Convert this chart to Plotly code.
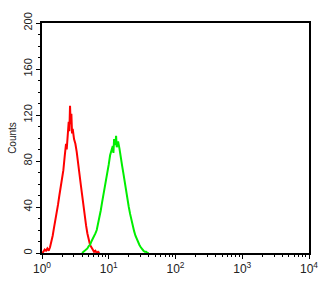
import plotly.graph_objects as go

# log10 fluorescence intensity positions and event counts
red_log = [0.00,0.02,0.04,0.06,0.08,0.10,0.12,0.14,0.16,0.18,0.20,0.22,0.24,0.26,0.28,0.30,
           0.32,0.34,0.36,0.37,0.38,0.40,0.41,0.42,0.43,0.44,0.45,0.46,0.48,0.50,0.52,0.54,0.56,0.58,0.60,
           0.62,0.64,0.66,0.68,0.70,0.72,0.74,0.76,0.78,0.80,0.82,0.84,0.86]
red_counts = [0,1,3,2,4,2,5,9,15,22,28,35,42,50,57,64,
              72,84,95,90,101,114,106,128,112,121,104,108,99,95,88,80,69,60,51,
              41,32,24,17,11,7,5,3,1,2,0,1,0]

green_log = [0.60,0.62,0.64,0.66,0.68,0.70,0.72,0.74,0.76,0.78,0.80,0.82,0.84,0.86,0.88,0.90,
             0.92,0.94,0.96,0.98,1.00,1.02,1.04,1.06,1.07,1.08,1.10,1.11,1.12,1.14,1.16,1.18,1.20,1.22,
             1.24,1.26,1.28,1.30,1.32,1.34,1.36,1.38,1.40,1.42,1.44,1.46,1.48,1.50,1.52,1.54,
             1.56,1.58,1.60]
green_counts = [0,1,2,3,4,6,7,10,12,14,17,20,25,31,37,44,
                50,57,63,71,77,85,90,93,87,99,94,102,92,97,91,85,76,69,
                61,53,46,40,34,28,23,19,15,12,9,7,5,3,2,1,
                1,0,0]

x_tickvals = [1, 10, 100, 1000, 10000]
x_ticktext = ["10<sup>0</sup>", "10<sup>1</sup>", "10<sup>2</sup>", "10<sup>3</sup>", "10<sup>4</sup>"]
y_tickvals = [0, 40, 80, 120, 160, 200]

minor_x = [m * 10 ** k for k in range(4) for m in range(2, 10)]

fig = go.Figure()
fig.add_trace(go.Scatter(x=[10 ** v for v in red_log], y=red_counts, mode="lines",
                         line=dict(color="#ff0000", width=2), showlegend=False))
fig.add_trace(go.Scatter(x=[10 ** v for v in green_log], y=green_counts, mode="lines",
                         line=dict(color="#00ee00", width=2), showlegend=False))

font_family = "Liberation Sans, Arial, sans-serif"

fig.update_layout(
    width=330, height=288,
    margin=dict(l=42, r=19, t=17, b=32),
    paper_bgcolor="white", plot_bgcolor="white",
    xaxis=dict(type="log", range=[0, 4], tickvals=x_tickvals, ticktext=x_ticktext,
               showgrid=False, zeroline=False, showline=True, linecolor="black", linewidth=1.5,
               mirror=True, ticks="outside", ticklen=4, tickcolor="black",
               minor=dict(tickvals=minor_x, ticks="outside", ticklen=2, tickcolor="black"),
               tickfont=dict(family=font_family, size=12, color="#222222")),
    yaxis=dict(range=[0, 200], tickvals=y_tickvals, tickangle=-90,
               showgrid=False, zeroline=False, showline=True, linecolor="black", linewidth=1.5,
               mirror=True, ticks="outside", ticklen=4, tickcolor="black",
               minor=dict(dtick=10, ticks="outside", ticklen=2, tickcolor="black"),
               tickfont=dict(family=font_family, size=11, color="#222222"),
               title=dict(text="Counts", standoff=3,
                          font=dict(family=font_family, size=10, color="#222222"))),
)

fig.write_html("out.html")
